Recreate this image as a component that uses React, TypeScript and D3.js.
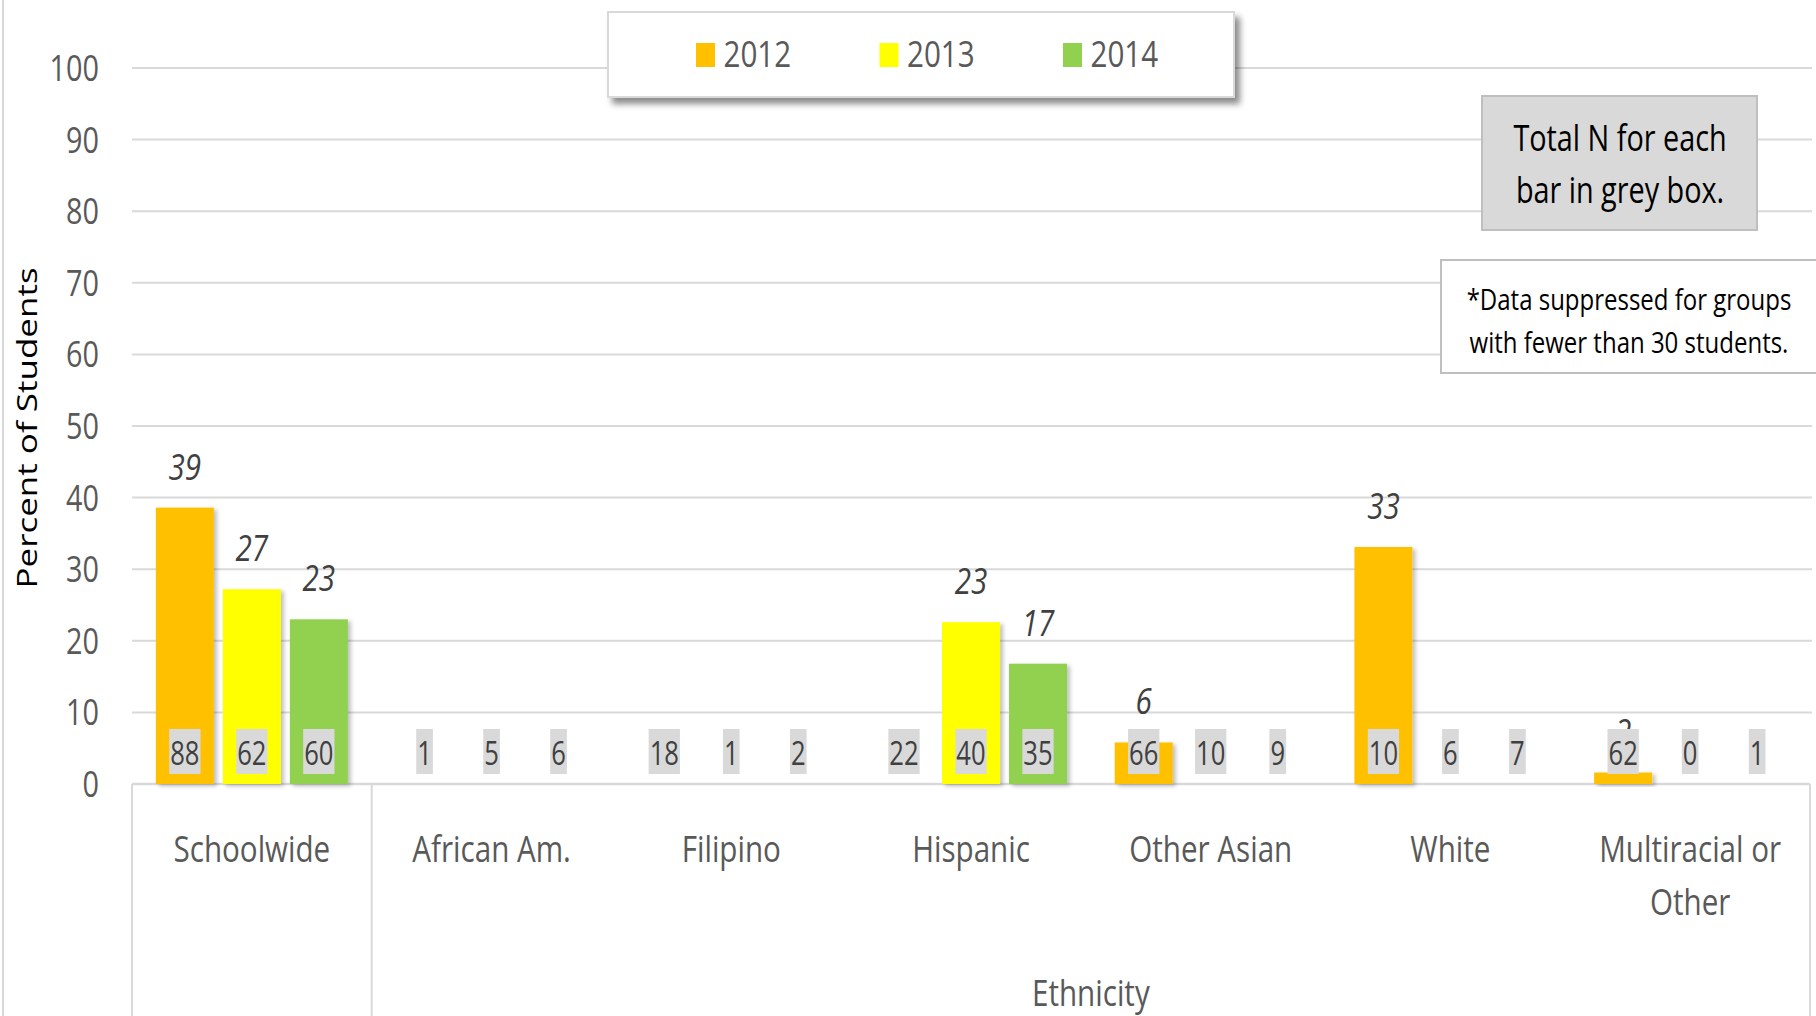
import React from "react";
import * as d3 from "d3";

const categories = ["Schoolwide", "African Am.", "Filipino", "Hispanic", "Other Asian", "White", "Multiracial or Other"];
const categoryLines = [["Schoolwide"], ["African Am."], ["Filipino"], ["Hispanic"], ["Other Asian"], ["White"], ["Multiracial or", "Other"]];
const years = ["2012", "2013", "2014"];
const values2012: (number | null)[] = [38.6, null, null, null, 5.8, 33.1, 1.6];
const values2013: (number | null)[] = [27.2, null, null, 22.6, null, null, null];
const values2014: (number | null)[] = [23.0, null, null, 16.8, null, null, null];
const n2012 = [88, 1, 18, 22, 66, 10, 62];
const n2013 = [62, 5, 1, 40, 10, 6, 0];
const n2014 = [60, 6, 2, 35, 9, 7, 1];
const yTicks = [0, 10, 20, 30, 40, 50, 60, 70, 80, 90, 100];
const colors = ["#FFC000", "#FFFF00", "#92D050"];
const groupLabel = "Ethnicity";
const yTitle = "Percent of Students";
const infoLines = ["Total N for each", "bar in grey box."];
const noteLines = ["*Data suppressed for groups", "with fewer than 30 students."];

const SX = 0.8;
const FONT = "'Open Sans', 'Noto Sans', sans-serif";

function T({ x, y, size, children, anchor = "middle", fill = "#595959", italic = false, rotate = 0 }: any) {
  return (
    <text
      transform={`translate(${x},${y}) scale(${SX},1)${rotate ? ` rotate(${rotate})` : ""}`}
      fontSize={size}
      fontFamily={FONT}
      textAnchor={anchor}
      fill={fill}
      fontStyle={italic ? "italic" : "normal"}
    >
      {children}
    </text>
  );
}

export default function App() {
  const W = 1816, H = 1016;
  const left = 132, right = 1810, gridRight = 1812;
  const y = d3.scaleLinear().domain([0, 100]).range([784, 68]);
  const x0 = d3.scaleBand<string>().domain(categories).range([left, right]).paddingInner(0).paddingOuter(0);
  const x1 = d3.scaleBand<string>().domain(years).range([0, x0.bandwidth()]).paddingInner(0.134).paddingOuter(0.356);
  const series = [values2012, values2013, values2014];
  const ns = [n2012, n2013, n2014];
  const fmt = d3.format(".0f");
  const digitW = 0.572 * 32 * SX;

  return (
    <svg width={W} height={H} style={{ position: "absolute", left: 0, top: 0, display: "block", background: "#fff" }}>
      <defs>
        <filter id="barShadow" x="-20%" y="-20%" width="140%" height="140%">
          <feDropShadow dx="3" dy="2" stdDeviation="2" floodColor="#000" floodOpacity="0.25" />
        </filter>
        <filter id="legShadow" x="-10%" y="-20%" width="130%" height="160%">
          <feDropShadow dx="5" dy="6" stdDeviation="3" floodColor="#000" floodOpacity="0.45" />
        </filter>
      </defs>
      <line x1={3} x2={3} y1={0} y2={H} stroke="#d9d9d9" strokeWidth={2} />
      {/* gridlines */}
      {yTicks.filter((t) => t > 0).map((t) => (
        <line key={t} x1={left} x2={gridRight} y1={y(t)} y2={y(t)} stroke="#d9d9d9" strokeWidth={2} />
      ))}
      {/* y tick labels */}
      {yTicks.map((t) => (
        <T key={t} x={99} y={y(t) + 13} size={36} anchor="end">{t}</T>
      ))}
      {/* y title */}
      <T x={37} y={428} size={35} fill="#000" rotate={-90}>{yTitle}</T>

      {/* category axis box */}
      <line x1={left} x2={right} y1={y(0)} y2={y(0)} stroke="#d9d9d9" strokeWidth={2.5} />
      <line x1={left} x2={left} y1={y(0)} y2={H} stroke="#d9d9d9" strokeWidth={2} />
      <line x1={x0(categories[1])!} x2={x0(categories[1])!} y1={y(0)} y2={H} stroke="#d9d9d9" strokeWidth={2} />
      <line x1={right} x2={right} y1={y(0)} y2={H} stroke="#d9d9d9" strokeWidth={2} />

      {/* bars */}
      {categories.map((c, i) =>
        series.map((s, j) => {
          const v = s[i];
          if (v == null) return null;
          return (
            <rect key={`${c}-${j}`} x={x0(c)! + x1(years[j])!} y={y(v)} width={x1.bandwidth()} height={y(0) - y(v)}
              fill={colors[j]} filter="url(#barShadow)" />
          );
        })
      )}
      {/* value labels */}
      {categories.map((c, i) =>
        series.map((s, j) => {
          const v = s[i];
          if (v == null) return null;
          const cx = x0(c)! + x1(years[j])! + x1.bandwidth() / 2;
          return (
            <T key={`l-${c}-${j}`} x={cx} y={y(v) - 28} size={37} fill="#404040" italic>{fmt(v)}</T>
          );
        })
      )}
      {/* N boxes */}
      {categories.map((c, i) =>
        ns.map((arr, j) => {
          const cx = x0(c)! + x1(years[j])! + x1.bandwidth() / 2;
          const str = String(arr[i]);
          const w = str.length * digitW + 2;
          return (
            <g key={`n-${c}-${j}`}>
              <rect x={cx - w / 2} y={729} width={w} height={45} fill="#d9d9d9" />
              <T x={cx} y={765} size={32} fill="#404040">{str}</T>
            </g>
          );
        })
      )}
      {/* category labels */}
      {categories.map((c, i) =>
        categoryLines[i].map((line, k) => (
          <T key={`c-${c}-${k}`} x={x0(c)! + x0.bandwidth() / 2} y={862 + k * 53} size={37}>{line}</T>
        ))
      )}
      <T x={(x0(categories[1])! + right) / 2} y={1006} size={37}>{groupLabel}</T>

      {/* legend */}
      <rect x={608} y={12} width={626} height={85} fill="#fff" stroke="#d9d9d9" strokeWidth={2} filter="url(#legShadow)" />
      {years.map((yr, j) => (
        <g key={yr}>
          <rect x={696 + j * 183.5} y={43} width={19} height={24} fill={colors[j]} />
          <T x={723.5 + j * 183.5} y={67} size={37} anchor="start">{yr}</T>
        </g>
      ))}

      {/* info box */}
      <rect x={1482} y={96} width={275} height={134} fill="#d9d9d9" stroke="#bfbfbf" strokeWidth={2} />
      {infoLines.map((l, k) => (
        <T key={l} x={1620} y={151 + k * 52} size={36} fill="#000">{l}</T>
      ))}
      {/* note box */}
      <rect x={1441} y={260} width={380} height={113} fill="#fff" stroke="#bfbfbf" strokeWidth={2} />
      {noteLines.map((l, k) => (
        <T key={l} x={1629} y={310 + k * 43} size={30} fill="#000">{l}</T>
      ))}
    </svg>
  );
}
